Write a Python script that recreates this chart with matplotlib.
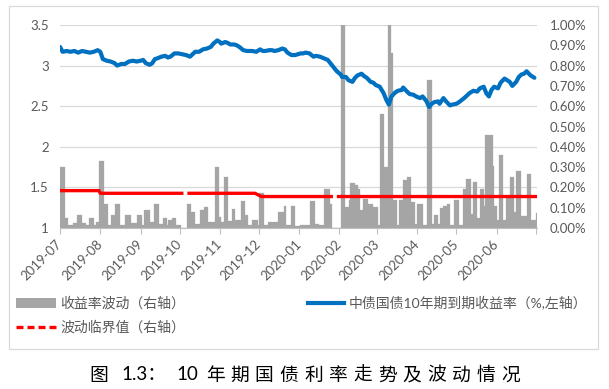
import matplotlib
matplotlib.use("Agg")
import matplotlib.pyplot as plt
import matplotlib.dates as mdates
from matplotlib.lines import Line2D
from matplotlib.patches import Patch, Rectangle
from matplotlib.ticker import FuncFormatter
import numpy as np
import pandas as pd

# ---------------- data ----------------
blue_dates = [
"2019-07-01","2019-07-03","2019-07-06","2019-07-09","2019-07-12","2019-07-15","2019-07-18","2019-07-21","2019-07-24","2019-07-27","2019-07-30",
"2019-08-01","2019-08-03","2019-08-06","2019-08-09","2019-08-12","2019-08-14","2019-08-17","2019-08-20","2019-08-23","2019-08-26","2019-08-29",
"2019-09-01","2019-09-03","2019-09-05","2019-09-08","2019-09-10","2019-09-12","2019-09-14","2019-09-17","2019-09-20","2019-09-22","2019-09-24","2019-09-27","2019-09-30",
"2019-10-03","2019-10-06","2019-10-09","2019-10-11","2019-10-13","2019-10-16","2019-10-19","2019-10-22","2019-10-25","2019-10-27","2019-10-30",
"2019-11-01","2019-11-02","2019-11-05","2019-11-07","2019-11-09","2019-11-12","2019-11-14","2019-11-16","2019-11-19","2019-11-22","2019-11-24","2019-11-26","2019-11-29",
"2019-12-02","2019-12-04","2019-12-06","2019-12-09","2019-12-11","2019-12-13","2019-12-16","2019-12-19","2019-12-21","2019-12-23","2019-12-26","2019-12-29",
"2020-01-02","2020-01-04","2020-01-06","2020-01-09","2020-01-12","2020-01-14","2020-01-17","2020-01-20","2020-01-23","2020-01-25","2020-01-27","2020-01-30",
"2020-02-02","2020-02-03","2020-02-06","2020-02-08","2020-02-11","2020-02-13","2020-02-15","2020-02-18","2020-02-20","2020-02-22","2020-02-25","2020-02-27","2020-02-29",
"2020-03-03","2020-03-06","2020-03-08","2020-03-10","2020-03-12","2020-03-15","2020-03-17","2020-03-20","2020-03-21","2020-03-24","2020-03-26","2020-03-29","2020-03-31",
"2020-04-03","2020-04-05","2020-04-08","2020-04-10","2020-04-12","2020-04-14","2020-04-17","2020-04-18","2020-04-21","2020-04-23","2020-04-26","2020-04-28",
"2020-05-01","2020-05-03","2020-05-07","2020-05-09","2020-05-11","2020-05-14","2020-05-17","2020-05-19","2020-05-22","2020-05-24","2020-05-26","2020-05-28","2020-05-30",
"2020-06-02","2020-06-04","2020-06-07","2020-06-09","2020-06-11","2020-06-13","2020-06-16","2020-06-18","2020-06-20","2020-06-22","2020-06-24","2020-06-27","2020-06-29","2020-06-30"]
blue_vals = [
3.23,3.17,3.18,3.17,3.18,3.16,3.18,3.17,3.16,3.17,3.19,
3.17,3.08,3.06,3.05,3.03,3.00,3.02,3.02,3.05,3.06,3.05,
3.06,3.07,3.03,3.01,3.03,3.08,3.09,3.11,3.12,3.10,3.11,3.15,3.15,
3.14,3.13,3.11,3.14,3.17,3.17,3.20,3.21,3.23,3.27,3.31,
3.29,3.27,3.29,3.28,3.26,3.26,3.25,3.23,3.19,3.18,3.18,3.18,3.17,
3.20,3.18,3.18,3.19,3.19,3.18,3.19,3.21,3.20,3.16,3.13,3.13,
3.15,3.15,3.16,3.15,3.11,3.12,3.11,3.09,3.07,3.03,2.99,2.93,
2.89,2.86,2.86,2.82,2.80,2.85,2.88,2.90,2.87,2.85,2.80,2.79,2.76,
2.74,2.66,2.58,2.52,2.62,2.67,2.69,2.70,2.73,2.68,2.65,2.64,2.62,
2.60,2.62,2.56,2.49,2.53,2.55,2.56,2.53,2.60,2.56,2.51,2.52,
2.53,2.55,2.60,2.63,2.66,2.69,2.68,2.72,2.74,2.66,2.62,2.70,2.74,
2.72,2.79,2.84,2.82,2.80,2.75,2.80,2.86,2.89,2.90,2.93,2.88,2.86,2.85]

# volatility bars (right axis, %): each value holds from its start date to the next start
bar_starts = [
"2019-07-01","2019-07-05","2019-07-07","2019-07-11","2019-07-14","2019-07-18","2019-07-21","2019-07-23","2019-07-27","2019-07-29","2019-07-31",
"2019-08-04","2019-08-07","2019-08-09","2019-08-12","2019-08-16","2019-08-20","2019-08-25","2019-08-29",
"2019-09-02","2019-09-04","2019-09-08","2019-09-11","2019-09-15","2019-09-18","2019-09-21","2019-09-22","2019-09-25","2019-09-28",
"2019-10-02","2019-10-07","2019-10-10","2019-10-13","2019-10-17","2019-10-20","2019-10-23","2019-10-28","2019-10-31",
"2019-11-02","2019-11-04","2019-11-07","2019-11-10","2019-11-13","2019-11-17","2019-11-20","2019-11-23","2019-11-26","2019-11-30",
"2019-12-01","2019-12-05","2019-12-08","2019-12-11","2019-12-16","2019-12-20","2019-12-22","2019-12-26","2019-12-29",
"2020-01-02","2020-01-09","2020-01-13","2020-01-16","2020-01-20","2020-01-25","2020-01-26",
"2020-02-02","2020-02-05","2020-02-08","2020-02-09","2020-02-13","2020-02-15","2020-02-17","2020-02-19","2020-02-23","2020-02-27",
"2020-03-02","2020-03-03","2020-03-06","2020-03-09","2020-03-12","2020-03-13","2020-03-16","2020-03-18","2020-03-21","2020-03-24","2020-03-27","2020-03-30",
"2020-04-01","2020-04-05","2020-04-08","2020-04-12","2020-04-14","2020-04-17","2020-04-18","2020-04-21","2020-04-24","2020-04-26","2020-04-29",
"2020-05-03","2020-05-06","2020-05-08","2020-05-12","2020-05-14","2020-05-17","2020-05-19","2020-05-22","2020-05-23","2020-05-29","2020-05-30",
"2020-06-01","2020-06-03","2020-06-06","2020-06-08","2020-06-11","2020-06-14","2020-06-16","2020-06-20","2020-06-24","2020-06-27","2020-07-01"]
bar_vals = [
0.30,0.05,0.015,0.023,0.065,0.023,0.015,0.05,0.015,0.03,0.33,
0.12,0.015,0.065,0.12,0.015,0.065,0.023,0.065,
0.015,0.09,0.03,0.12,0.02,0.048,0.015,0.04,0.048,0.015,
0.0,0.12,0.078,0.02,0.09,0.105,0.03,0.30,0.056,
0.03,0.25,0.035,0.093,0.04,0.134,0.065,0.015,0.04,0.015,
0.172,0.015,0.028,0.031,0.078,0.11,0.015,0.11,0.012,
0.015,0.134,0.02,0.015,0.193,0.12,0.0,
1.2,0.105,0.14,0.22,0.21,0.19,0.09,0.145,0.12,0.105,
0.015,0.56,0.30,1.2,0.86,0.14,0.015,0.14,0.237,0.25,0.13,0.02,
0.12,0.015,0.73,0.02,0.064,0.02,0.10,0.11,0.12,0.015,0.14,
0.015,0.19,0.24,0.07,0.225,0.05,0.19,0.11,0.46,0.305,0.11,
0.04,0.36,0.04,0.146,0.25,0.08,0.28,0.06,0.265,0.04,0.075]
bar_end = "2020-07-03"

# threshold line (right axis, %), NaN = break
red_dates = ["2019-07-01","2019-07-31","2019-08-01","2019-10-04","2019-10-05","2019-10-07",
             "2019-11-28","2019-12-03","2020-01-27","2020-01-28","2020-01-30","2020-07-02"]
red_vals = [0.184,0.184,0.171,0.171,np.nan,0.171,0.171,0.155,0.155,np.nan,0.155,0.155]

left_ticks = [1, 1.5, 2, 2.5, 3, 3.5]
left_labels = ["1", "1.5", "2", "2.5", "3", "3.5"]
right_ticks = [0.0, 0.1, 0.2, 0.3, 0.4, 0.5, 0.6, 0.7, 0.8, 0.9, 1.0]
month_ticks = ["2019-07-01","2019-08-01","2019-09-01","2019-10-01","2019-11-01","2019-12-01",
               "2020-01-01","2020-02-01","2020-03-01","2020-04-01","2020-05-01","2020-06-01","2020-07-01"]
month_labels = ["2019-07","2019-08","2019-09","2019-10","2019-11","2019-12",
                "2020-01","2020-02","2020-03","2020-04","2020-05","2020-06",""]

legend_labels = ["收益率波动（右轴）", "波动临界值（右轴）", "中债国债10年期到期收益率（%,左轴）"]
caption_parts = ["图", "1.3：", "10", "年","期","国","债","利","率","走","势","及","波","动","情","况"]

# ---------------- style ----------------
GRAY_TXT = "#595959"
FAM = ["Lato", "Noto Sans CJK SC", "DejaVu Sans"]
plt.rcParams["font.family"] = FAM

W, H = 609, 389
fig = plt.figure(figsize=(W/100, H/100), dpi=100)
fig.patch.set_facecolor("white")

# outer frame
fig.add_artist(Rectangle((9/W, 1-349/H), (598-9)/W, (349-6)/H, transform=fig.transFigure,
                         fill=False, edgecolor="#d9d9d9", linewidth=0.9))

ax = fig.add_axes([60/W, 1-228/H, 477/W, 203/H])
axL = ax.twinx()

d2n = lambda s: mdates.date2num(pd.to_datetime(s))

# bars
bx = d2n(bar_starts)
edges = np.append(bx, d2n([bar_end]))
widths = np.diff(edges)
ax.bar(bx, bar_vals, width=widths, align="edge", color="#a5a5a5",
       edgecolor="#a5a5a5", linewidth=0.2, zorder=2)

# gridlines every other right tick (= left ticks)
for v in right_ticks[::2]:
    ax.axhline(v, color="#d9d9d9", linewidth=0.9, zorder=0.5)

# threshold line
ax.plot(d2n(red_dates), red_vals, color="#ff0000", linewidth=2.4, zorder=3,
        solid_capstyle="butt")

# yield line
axL.plot(d2n(blue_dates), blue_vals, color="#0070c0", linewidth=3.0,
         solid_joinstyle="round", solid_capstyle="round", zorder=4)

ax.set_xlim(d2n(["2019-07-01"])[0], d2n(["2020-07-02"])[0])
ax.set_ylim(0, 1.0)
axL.set_ylim(1, 3.5)

ax.yaxis.tick_right()
ax.set_yticks(right_ticks)
ax.yaxis.set_major_formatter(FuncFormatter(lambda v, p: f"{v:.2f}%"))
ax.tick_params(axis="y", length=0, pad=9, labelsize=9.5, labelcolor=GRAY_TXT)

axL.yaxis.tick_left()
axL.set_yticks(left_ticks)
axL.set_yticklabels(left_labels)
axL.tick_params(axis="y", length=0, pad=8, labelsize=9.5, labelcolor=GRAY_TXT)

ax.set_xticks(d2n(month_ticks))
ax.set_xticklabels(month_labels, rotation=45, ha="right", va="center",
                   rotation_mode="anchor")
ax.tick_params(axis="x", length=4, width=0.8, color="#bfbfbf", pad=6,
               labelsize=9.5, labelcolor=GRAY_TXT)

for s in ["top", "left", "right"]:
    ax.spines[s].set_visible(False)
ax.spines["bottom"].set_color("#bfbfbf")
ax.spines["bottom"].set_linewidth(0.8)
for s in axL.spines.values():
    s.set_visible(False)
axL.tick_params(axis="x", bottom=False, labelbottom=False)

# legends
fp = {"family": FAM, "size": 10}
h_bar = Patch(facecolor="#a5a5a5", edgecolor="none")
h_red = Line2D([], [], color="#ff0000", linewidth=2.4, linestyle=(0, (2.1, 1.2)))
h_blue = Line2D([], [], color="#0070c0", linewidth=3.0)
leg1 = fig.legend([h_bar, h_red], legend_labels[:2], loc="center left",
                  bbox_to_anchor=(16/W, 1-315/H), frameon=False, prop=fp,
                  labelcolor=GRAY_TXT, handlelength=2.9, handleheight=0.8,
                  handletextpad=0.3, labelspacing=0.75, borderpad=0, borderaxespad=0)
leg2 = fig.legend([h_blue], legend_labels[2:], loc="center left",
                  bbox_to_anchor=(308/W, 1-303/H), frameon=False, prop=fp,
                  labelcolor=GRAY_TXT, handlelength=2.6, handletextpad=0.3,
                  borderpad=0, borderaxespad=0)

# caption
cy = 1 - 375/H
cap_kw = dict(fontsize=13.5, color="black", va="center", family=FAM)
fig.text(99/W, cy, caption_parts[0], ha="center", **cap_kw)
fig.text(121/W, cy, caption_parts[1], ha="left", **cap_kw)
fig.text(187/W, cy, caption_parts[2], ha="center", **cap_kw)
for i, ch in enumerate(caption_parts[3:]):
    fig.text((215 + i*24.6)/W, cy, ch, ha="center", **cap_kw)

fig.savefig("out.png", dpi=100)
